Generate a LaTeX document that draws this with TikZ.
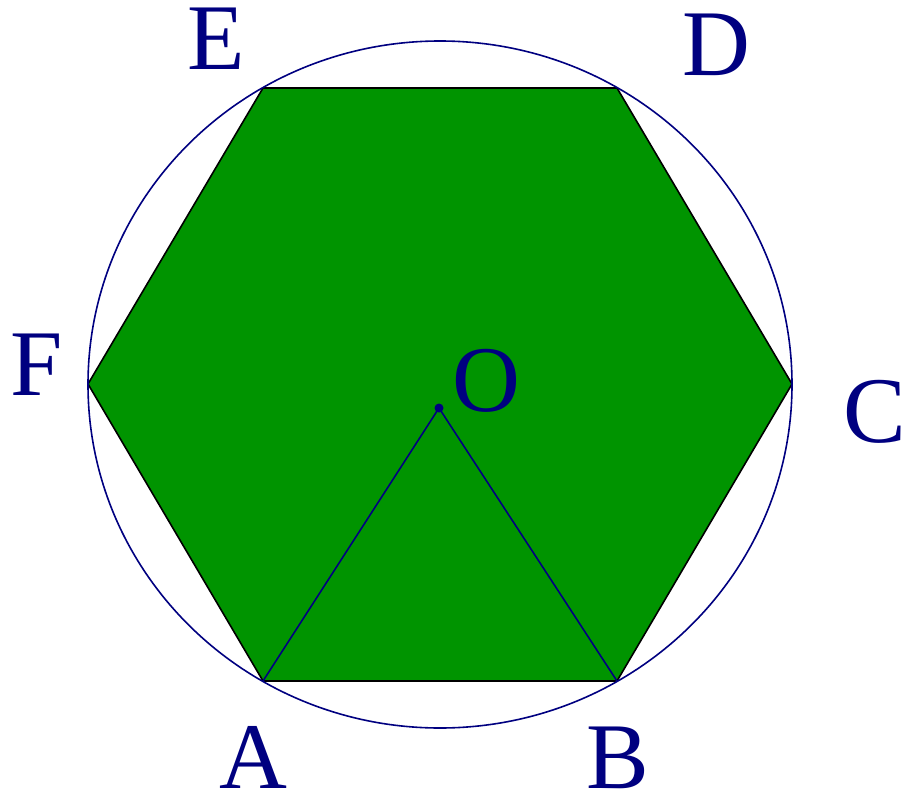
\documentclass[tikz,border=0pt]{standalone}
\usepackage{fontspec}
\setmainfont{Liberation Serif}
\definecolor{hexgreen}{RGB}{0,148,0}
\definecolor{navy}{RGB}{0,0,128}
\begin{document}
\begin{tikzpicture}[x=1pt,y=-1pt,
  lbl/.style={text=navy,inner sep=0pt,font=\fontsize{94}{94}\selectfont},
  navyline/.style={draw=navy,line width=1.6pt}]
\useasboundingbox (0,0) rectangle (904,792);
\coordinate (A) at (263,681);
\coordinate (B) at (617,681);
\coordinate (C) at (792,384);
\coordinate (D) at (617,88);
\coordinate (E) at (263,88);
\coordinate (F) at (88,384);
\coordinate (Oc) at (440,384.5);
\coordinate (O) at (439,408);
\filldraw[fill=hexgreen,draw=black,line width=1.6pt,line join=miter]
  (A) -- (B) -- (C) -- (D) -- (E) -- (F) -- cycle;
\draw[navyline] (Oc) ellipse [x radius=352, y radius=343.5];
\draw[navyline] (A) -- (O) -- (B);
\fill[navy] (O) circle [radius=4.5];
\node[lbl] (lE) at (216,38.5) {E};
\node[lbl] (lD) at (716.5,44.5) {D};
\node[lbl] (lF) at (37,364.5) {F};
\node[lbl] (lC) at (875,412) {C};
\node[lbl] (lA) at (253.5,757) {A};
\node[lbl] (lB) at (617.5,758) {B};
\node[lbl] (lO) at (486,380.5) {O};
\end{tikzpicture}
\end{document}
